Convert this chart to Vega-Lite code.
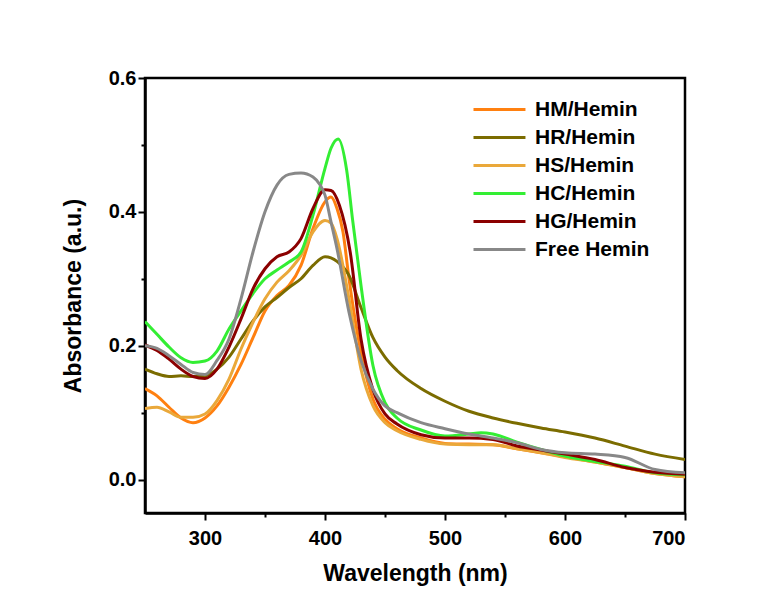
{
  "$schema": "https://vega.github.io/schema/vega-lite/v6.json",
  "width": 540,
  "height": 435,
  "autosize": {"type": "none"},
  "padding": {"left": 145, "top": 78, "right": 96, "bottom": 88},
  "background": "white",
  "config": {
    "view": {"stroke": "black", "strokeWidth": 2.5},
    "font": "Liberation Sans",
    "axis": {"grid": false, "domainColor": "black", "domainWidth": 2.5, "tickColor": "black", "tickWidth": 2, "labelColor": "black", "titleColor": "black", "labelFont": "Liberation Sans", "titleFont": "Liberation Sans", "labelFontWeight": "bold", "titleFontWeight": "bold", "labelFontSize": 20, "titleFontSize": 23}
  },
  "data": {"values": [
    {"s":"HM/Hemin","w":250,"a":0.136},{"s":"HM/Hemin","w":260,"a":0.125},{"s":"HM/Hemin","w":270,"a":0.108},{"s":"HM/Hemin","w":280,"a":0.092},{"s":"HM/Hemin","w":290,"a":0.085},{"s":"HM/Hemin","w":300,"a":0.092},{"s":"HM/Hemin","w":310,"a":0.110},{"s":"HM/Hemin","w":320,"a":0.138},{"s":"HM/Hemin","w":330,"a":0.172},{"s":"HM/Hemin","w":340,"a":0.212},{"s":"HM/Hemin","w":350,"a":0.252},{"s":"HM/Hemin","w":360,"a":0.275},{"s":"HM/Hemin","w":370,"a":0.290},{"s":"HM/Hemin","w":380,"a":0.320},{"s":"HM/Hemin","w":390,"a":0.375},{"s":"HM/Hemin","w":400,"a":0.415},{"s":"HM/Hemin","w":405,"a":0.422},{"s":"HM/Hemin","w":410,"a":0.405},{"s":"HM/Hemin","w":415,"a":0.370},{"s":"HM/Hemin","w":420,"a":0.300},{"s":"HM/Hemin","w":430,"a":0.190},{"s":"HM/Hemin","w":440,"a":0.120},{"s":"HM/Hemin","w":450,"a":0.090},{"s":"HM/Hemin","w":460,"a":0.076},{"s":"HM/Hemin","w":480,"a":0.062},{"s":"HM/Hemin","w":500,"a":0.054},{"s":"HM/Hemin","w":520,"a":0.053},{"s":"HM/Hemin","w":540,"a":0.052},{"s":"HM/Hemin","w":560,"a":0.046},{"s":"HM/Hemin","w":580,"a":0.040},{"s":"HM/Hemin","w":600,"a":0.034},{"s":"HM/Hemin","w":625,"a":0.026},{"s":"HM/Hemin","w":650,"a":0.018},{"s":"HM/Hemin","w":675,"a":0.009},{"s":"HM/Hemin","w":700,"a":0.004},

    {"s":"HR/Hemin","w":250,"a":0.165},{"s":"HR/Hemin","w":260,"a":0.158},{"s":"HR/Hemin","w":270,"a":0.154},{"s":"HR/Hemin","w":280,"a":0.155},{"s":"HR/Hemin","w":290,"a":0.154},{"s":"HR/Hemin","w":300,"a":0.155},{"s":"HR/Hemin","w":310,"a":0.165},{"s":"HR/Hemin","w":320,"a":0.183},{"s":"HR/Hemin","w":330,"a":0.210},{"s":"HR/Hemin","w":340,"a":0.237},{"s":"HR/Hemin","w":350,"a":0.258},{"s":"HR/Hemin","w":360,"a":0.272},{"s":"HR/Hemin","w":370,"a":0.287},{"s":"HR/Hemin","w":380,"a":0.300},{"s":"HR/Hemin","w":390,"a":0.320},{"s":"HR/Hemin","w":400,"a":0.333},{"s":"HR/Hemin","w":410,"a":0.326},{"s":"HR/Hemin","w":420,"a":0.305},{"s":"HR/Hemin","w":430,"a":0.257},{"s":"HR/Hemin","w":440,"a":0.212},{"s":"HR/Hemin","w":450,"a":0.183},{"s":"HR/Hemin","w":460,"a":0.163},{"s":"HR/Hemin","w":480,"a":0.136},{"s":"HR/Hemin","w":500,"a":0.117},{"s":"HR/Hemin","w":520,"a":0.102},{"s":"HR/Hemin","w":540,"a":0.092},{"s":"HR/Hemin","w":560,"a":0.084},{"s":"HR/Hemin","w":580,"a":0.077},{"s":"HR/Hemin","w":600,"a":0.071},{"s":"HR/Hemin","w":625,"a":0.062},{"s":"HR/Hemin","w":650,"a":0.050},{"s":"HR/Hemin","w":675,"a":0.038},{"s":"HR/Hemin","w":700,"a":0.030},

    {"s":"HS/Hemin","w":250,"a":0.106},{"s":"HS/Hemin","w":260,"a":0.108},{"s":"HS/Hemin","w":270,"a":0.101},{"s":"HS/Hemin","w":280,"a":0.093},{"s":"HS/Hemin","w":290,"a":0.093},{"s":"HS/Hemin","w":300,"a":0.098},{"s":"HS/Hemin","w":310,"a":0.118},{"s":"HS/Hemin","w":320,"a":0.150},{"s":"HS/Hemin","w":330,"a":0.195},{"s":"HS/Hemin","w":340,"a":0.235},{"s":"HS/Hemin","w":350,"a":0.270},{"s":"HS/Hemin","w":360,"a":0.295},{"s":"HS/Hemin","w":370,"a":0.312},{"s":"HS/Hemin","w":380,"a":0.335},{"s":"HS/Hemin","w":390,"a":0.370},{"s":"HS/Hemin","w":400,"a":0.387},{"s":"HS/Hemin","w":405,"a":0.383},{"s":"HS/Hemin","w":410,"a":0.360},{"s":"HS/Hemin","w":420,"a":0.270},{"s":"HS/Hemin","w":430,"a":0.165},{"s":"HS/Hemin","w":440,"a":0.110},{"s":"HS/Hemin","w":450,"a":0.085},{"s":"HS/Hemin","w":460,"a":0.073},{"s":"HS/Hemin","w":480,"a":0.060},{"s":"HS/Hemin","w":500,"a":0.053},{"s":"HS/Hemin","w":520,"a":0.052},{"s":"HS/Hemin","w":540,"a":0.052},{"s":"HS/Hemin","w":560,"a":0.046},{"s":"HS/Hemin","w":580,"a":0.040},{"s":"HS/Hemin","w":600,"a":0.033},{"s":"HS/Hemin","w":625,"a":0.026},{"s":"HS/Hemin","w":650,"a":0.018},{"s":"HS/Hemin","w":675,"a":0.009},{"s":"HS/Hemin","w":700,"a":0.004},

    {"s":"HC/Hemin","w":250,"a":0.236},{"s":"HC/Hemin","w":260,"a":0.217},{"s":"HC/Hemin","w":270,"a":0.198},{"s":"HC/Hemin","w":280,"a":0.182},{"s":"HC/Hemin","w":290,"a":0.175},{"s":"HC/Hemin","w":300,"a":0.177},{"s":"HC/Hemin","w":310,"a":0.192},{"s":"HC/Hemin","w":320,"a":0.225},{"s":"HC/Hemin","w":330,"a":0.252},{"s":"HC/Hemin","w":340,"a":0.278},{"s":"HC/Hemin","w":350,"a":0.300},{"s":"HC/Hemin","w":360,"a":0.313},{"s":"HC/Hemin","w":370,"a":0.325},{"s":"HC/Hemin","w":380,"a":0.340},{"s":"HC/Hemin","w":390,"a":0.395},{"s":"HC/Hemin","w":400,"a":0.465},{"s":"HC/Hemin","w":405,"a":0.495},{"s":"HC/Hemin","w":411,"a":0.509},{"s":"HC/Hemin","w":418,"a":0.463},{"s":"HC/Hemin","w":423,"a":0.388},{"s":"HC/Hemin","w":430,"a":0.290},{"s":"HC/Hemin","w":440,"a":0.170},{"s":"HC/Hemin","w":450,"a":0.115},{"s":"HC/Hemin","w":460,"a":0.092},{"s":"HC/Hemin","w":480,"a":0.074},{"s":"HC/Hemin","w":500,"a":0.065},{"s":"HC/Hemin","w":520,"a":0.068},{"s":"HC/Hemin","w":530,"a":0.070},{"s":"HC/Hemin","w":540,"a":0.068},{"s":"HC/Hemin","w":560,"a":0.056},{"s":"HC/Hemin","w":580,"a":0.045},{"s":"HC/Hemin","w":600,"a":0.035},{"s":"HC/Hemin","w":625,"a":0.027},{"s":"HC/Hemin","w":650,"a":0.020},{"s":"HC/Hemin","w":675,"a":0.010},{"s":"HC/Hemin","w":700,"a":0.007},

    {"s":"HG/Hemin","w":250,"a":0.201},{"s":"HG/Hemin","w":260,"a":0.193},{"s":"HG/Hemin","w":270,"a":0.180},{"s":"HG/Hemin","w":280,"a":0.165},{"s":"HG/Hemin","w":290,"a":0.154},{"s":"HG/Hemin","w":300,"a":0.151},{"s":"HG/Hemin","w":310,"a":0.165},{"s":"HG/Hemin","w":320,"a":0.198},{"s":"HG/Hemin","w":330,"a":0.240},{"s":"HG/Hemin","w":340,"a":0.285},{"s":"HG/Hemin","w":350,"a":0.315},{"s":"HG/Hemin","w":360,"a":0.333},{"s":"HG/Hemin","w":370,"a":0.340},{"s":"HG/Hemin","w":380,"a":0.360},{"s":"HG/Hemin","w":390,"a":0.405},{"s":"HG/Hemin","w":400,"a":0.433},{"s":"HG/Hemin","w":405,"a":0.432},{"s":"HG/Hemin","w":412,"a":0.410},{"s":"HG/Hemin","w":421,"a":0.340},{"s":"HG/Hemin","w":430,"a":0.210},{"s":"HG/Hemin","w":440,"a":0.134},{"s":"HG/Hemin","w":450,"a":0.098},{"s":"HG/Hemin","w":460,"a":0.083},{"s":"HG/Hemin","w":480,"a":0.067},{"s":"HG/Hemin","w":500,"a":0.062},{"s":"HG/Hemin","w":520,"a":0.062},{"s":"HG/Hemin","w":540,"a":0.060},{"s":"HG/Hemin","w":560,"a":0.050},{"s":"HG/Hemin","w":580,"a":0.044},{"s":"HG/Hemin","w":600,"a":0.038},{"s":"HG/Hemin","w":625,"a":0.030},{"s":"HG/Hemin","w":650,"a":0.018},{"s":"HG/Hemin","w":675,"a":0.011},{"s":"HG/Hemin","w":700,"a":0.008},

    {"s":"Free Hemin","w":250,"a":0.200},{"s":"Free Hemin","w":260,"a":0.196},{"s":"Free Hemin","w":270,"a":0.185},{"s":"Free Hemin","w":280,"a":0.172},{"s":"Free Hemin","w":290,"a":0.160},{"s":"Free Hemin","w":300,"a":0.157},{"s":"Free Hemin","w":310,"a":0.178},{"s":"Free Hemin","w":320,"a":0.210},{"s":"Free Hemin","w":330,"a":0.270},{"s":"Free Hemin","w":340,"a":0.340},{"s":"Free Hemin","w":350,"a":0.400},{"s":"Free Hemin","w":360,"a":0.440},{"s":"Free Hemin","w":370,"a":0.456},{"s":"Free Hemin","w":380,"a":0.458},{"s":"Free Hemin","w":390,"a":0.452},{"s":"Free Hemin","w":396,"a":0.440},{"s":"Free Hemin","w":400,"a":0.425},{"s":"Free Hemin","w":405,"a":0.385},{"s":"Free Hemin","w":410,"a":0.345},{"s":"Free Hemin","w":420,"a":0.250},{"s":"Free Hemin","w":430,"a":0.178},{"s":"Free Hemin","w":440,"a":0.135},{"s":"Free Hemin","w":450,"a":0.110},{"s":"Free Hemin","w":460,"a":0.100},{"s":"Free Hemin","w":480,"a":0.085},{"s":"Free Hemin","w":500,"a":0.076},{"s":"Free Hemin","w":520,"a":0.068},{"s":"Free Hemin","w":540,"a":0.062},{"s":"Free Hemin","w":560,"a":0.055},{"s":"Free Hemin","w":580,"a":0.045},{"s":"Free Hemin","w":600,"a":0.040},{"s":"Free Hemin","w":625,"a":0.038},{"s":"Free Hemin","w":650,"a":0.033},{"s":"Free Hemin","w":675,"a":0.015},{"s":"Free Hemin","w":700,"a":0.010}
  ]},
  "resolve": {"axis": {"x": "independent", "y": "independent"}},
  "layer": [
    {
      "mark": {"type": "line", "strokeWidth": 3, "interpolate": "monotone", "clip": true},
      "encoding": {
        "x": {"field": "w", "type": "quantitative", "scale": {"domain": [250, 700], "nice": false, "zero": false},
          "axis": {"title": "Wavelength (nm)", "orient": "bottom", "values": [300, 400, 500, 600, 700], "tickSize": 7, "labelPadding": 8, "titlePadding": 14}},
        "y": {"field": "a", "type": "quantitative", "scale": {"domain": [-0.05, 0.6], "nice": false, "zero": false},
          "axis": {"title": "Absorbance (a.u.)", "orient": "left", "values": [0, 0.2, 0.4, 0.6], "format": ".1f", "tickSize": 7, "labelPadding": 2, "titlePadding": 23}},
        "color": {"field": "s", "type": "nominal",
          "scale": {"domain": ["HM/Hemin", "HR/Hemin", "HS/Hemin", "HC/Hemin", "HG/Hemin", "Free Hemin"], "range": ["#FF8010", "#7B6C00", "#EAA83A", "#33EE33", "#8B0000", "#888888"]},
          "legend": {"title": null, "orient": "none", "legendX": 318, "legendY": 21, "padding": 0,
            "symbolType": "M0,0H10", "symbolSize": 108, "symbolStrokeWidth": 3, "labelOffset": 51,
            "labelFont": "Liberation Sans", "labelFontWeight": "bold", "labelFontSize": 21, "labelColor": "black", "rowPadding": 6}}
      }
    },
    {
      "mark": {"type": "line", "strokeOpacity": 0},
      "encoding": {
        "x": {"field": "w", "type": "quantitative",
          "axis": {"title": null, "orient": "bottom", "values": [350, 450, 550, 650], "labels": false, "domain": false, "tickSize": 4}},
        "y": {"field": "a", "type": "quantitative",
          "axis": {"title": null, "orient": "left", "values": [0.1, 0.3, 0.5], "labels": false, "domain": false, "tickSize": 4}},
        "detail": {"field": "s"}
      }
    }
  ]
}
